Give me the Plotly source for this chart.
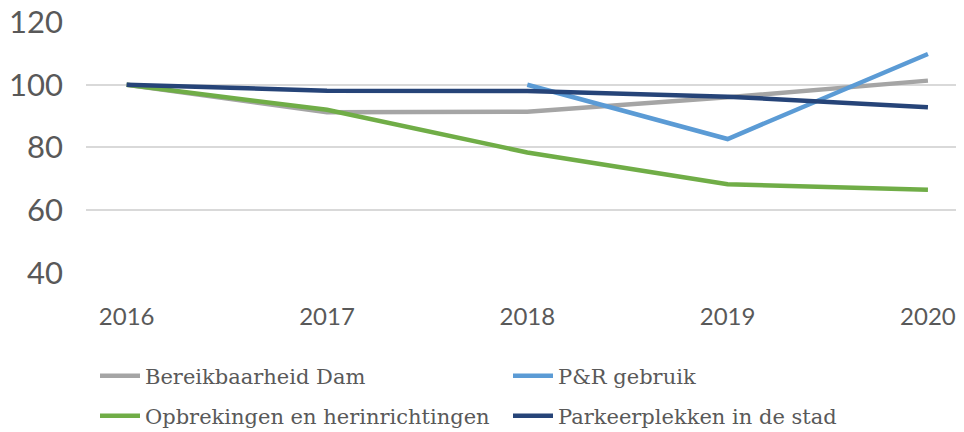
import plotly.graph_objects as go

years = [2016, 2017, 2018, 2019, 2020]
bereikbaarheid_dam = [100, 91.2, 91.4, 96.0, 101.3]
pr_gebruik = [None, None, 100, 82.7, 109.8]
opbrekingen = [100, 92.0, 78.4, 68.3, 66.5]
parkeerplekken = [100, 98.1, 98.0, 96.2, 92.8]

names = ["Bereikbaarheid Dam", "P&R gebruik", "Opbrekingen en herinrichtingen", "Parkeerplekken in de stad"]
colors = ["#A5A5A5", "#5B9BD5", "#70AD47", "#264478"]
series = [bereikbaarheid_dam, pr_gebruik, opbrekingen, parkeerplekken]
legends = ["legend", "legend", "legend2", "legend2"]

y_ticks = [40, 60, 80, 100, 120]

W, H = 964, 432
OFF = 8  # page body margin compensation

fig = go.Figure()
for n, c, s, lg in zip(names, colors, series, legends):
    fig.add_trace(go.Scatter(x=years, y=s, name=n, mode="lines",
                             line=dict(color=c, width=4.5), legend=lg,
                             connectgaps=False))

legfont = dict(family="DejaVu Serif", size=21, color="#595959")
common_leg = dict(orientation="h", xref="container", yref="container",
                  xanchor="left", yanchor="middle", font=legfont, entrywidth=358,
                  entrywidthmode="pixels", bgcolor="rgba(0,0,0,0)", itemwidth=40)
fig.update_layout(
    width=W, height=H,
    margin=dict(l=86 - OFF, r=OFF, t=13, b=159 + OFF, autoexpand=False),
    paper_bgcolor="white", plot_bgcolor="white",
    xaxis=dict(range=[2015.797, 2020.18], tickvals=years, ticktext=[str(y) for y in years],
               showgrid=False, zeroline=False, showline=False, ticks="",
               tickfont=dict(family="Lato", size=24, color="#595959"),
               ticklabelstandoff=27, automargin=False, ticklabeloverflow="allow"),
    yaxis=dict(range=[40, 120.3], tickvals=y_ticks, showgrid=True, gridcolor="#D9D9D9", gridwidth=1.5,
               zeroline=False, showline=False, ticks="",
               tickfont=dict(family="Lato", size=31, color="#595959"),
               ticklabelstandoff=22, automargin=False, ticklabeloverflow="allow"),
    legend=dict(x=87 / W, y=1 - 368 / H, **common_leg),
    legend2=dict(x=87 / W, y=1 - 408 / H, **common_leg),
    showlegend=True,
)

fig.write_html("out.html")
